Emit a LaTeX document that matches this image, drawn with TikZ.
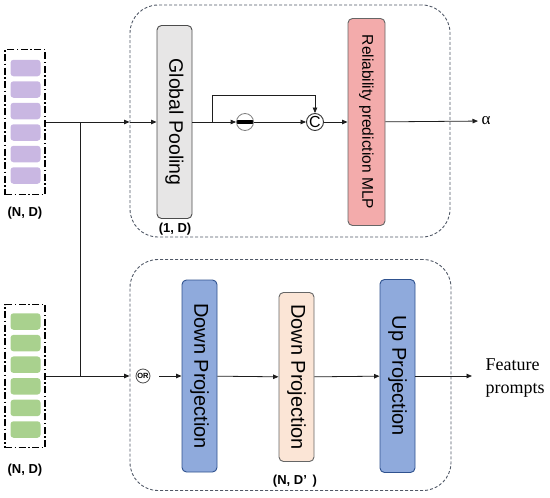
\documentclass[tikz,border=0pt]{standalone}
\usepackage{fontspec}
\setmainfont{Liberation Serif}
\setsansfont{Liberation Sans}
\usepackage{xcolor}
\usetikzlibrary{arrows.meta,positioning,fit}

\definecolor{cellpurple}{RGB}{201,183,226}
\definecolor{cellgreen}{RGB}{169,209,142}
\definecolor{poolgray}{RGB}{231,230,230}
\definecolor{mlppink}{RGB}{243,171,171}
\definecolor{projblue}{RGB}{143,170,220}
\definecolor{projedge}{RGB}{47,82,143}
\definecolor{peach}{RGB}{251,229,214}
\definecolor{stageclr}{RGB}{80,88,102}
\definecolor{lineclr}{RGB}{30,30,30}

\begin{document}
\begin{tikzpicture}[
    x=1pt, y=-1pt,
    inbox/.style={draw, line width=1.1pt, dash pattern=on 7pt off 2.5pt on 1.5pt off 2.5pt, minimum width=40pt, inner sep=0pt},
    cell/.style={rounded corners=3pt, minimum width=30pt, minimum height=16.5pt, inner sep=0pt},
    stage/.style={draw=stageclr, line width=0.9pt, dash pattern=on 3pt off 2pt, rounded corners=28pt, inner sep=0pt},
    blk/.style={draw, line width=0.9pt, rounded corners=4.5pt, rotate=-90, minimum height=35pt, inner sep=0pt, font=\sffamily},
    op/.style={draw=gray, circle, fill=white, inner sep=0pt, line width=0.8pt},
    dim/.style={font=\sffamily\bfseries\fontsize{13}{15}\selectfont},
    arr/.style={-{Triangle[length=5.5pt,width=4.5pt]}, line width=0.8pt, draw=lineclr},
    ln/.style={line width=0.8pt, draw=lineclr}
]
\useasboundingbox (0,0) rectangle (550,498);

% dashed stages
\node[stage, minimum width=320pt, minimum height=232pt] (upper) at (290,121) {};
\node[stage, minimum width=321pt, minimum height=231pt] (lower) at (290.5,375) {};

% input stacks
\node[inbox, minimum height=145pt] (inA) at (25,122) {};
\foreach \i in {0,...,5}
    \node[cell, fill=cellpurple] (pa\i) at (25.5,68+21.5*\i) {};
\node[dim] (dimA) at (25,213) {(N, D)};
\node[inbox, minimum height=143pt] (inB) at (25,376) {};
\foreach \i in {0,...,5}
    \node[cell, fill=cellgreen] (gb\i) at (25.5,321.5+21.6*\i) {};
\node[dim] (dimB) at (25,470) {(N, D)};

% upper branch
\node[blk, fill=poolgray, draw=black!70, minimum width=193pt, font=\sffamily\fontsize{19.5}{22}\selectfont] (gp) at (174.5,122) {Global Pooling};
\node[dim] (dimGP) at (175,229) {(1, D)};
\node[op, minimum size=17pt, path picture={\fill[black] ([yshift=-2.2pt]path picture bounding box.west) rectangle ([yshift=2.2pt]path picture bounding box.east);}] (minus) at (245,122) {};
\node[op, draw=black!80, minimum size=17pt, line width=0.9pt, font=\sffamily\fontsize{16}{16}\selectfont] (cat) at (315,122) {C};
\node[blk, fill=mlppink, draw=black!60, minimum width=207pt, minimum height=37pt, font=\sffamily\fontsize{15.5}{18}\selectfont] (mlp) at (366.5,122) {Reliability prediction MLP};
\node[anchor=west, font=\fontsize{17}{17}\selectfont] (alpha) at (478,121) {α};

% lower branch
\node[op, draw=black!70, minimum size=14pt, font=\sffamily\bfseries\fontsize{7.5}{8}\selectfont] (orn) at (143,376) {OR};
\node[blk, fill=projblue, draw=projedge, minimum width=192pt, font=\sffamily\fontsize{20}{22}\selectfont] (dp1) at (199.5,376) {Down Projection};
\node[blk, fill=peach, draw=black!60, minimum width=169pt, font=\sffamily\fontsize{20}{22}\selectfont] (dp2) at (296.5,377) {Down Projection};
\node[dim] (dimDP) at (295,481) {(N, D’\ \,)};
\node[blk, fill=projblue, draw=projedge, minimum width=193pt, font=\sffamily\fontsize{20}{22}\selectfont] (up) at (397.5,376) {Up Projection};
\node[anchor=west, align=left, font=\fontsize{18}{23}\selectfont] (feat) at (482,378) {Feature\\prompts};

% connections
\coordinate (forkA) at (80,122);
\coordinate (split) at (212,122);
\draw[arr] (inA) -- (inA -| upper.west);
\draw[arr] (inA -| upper.west) -- (gp);
\draw[ln] (forkA) -- (forkA |- inB);
\draw[arr] (inB) -- (inB -| lower.west);
\draw[arr] (gp) -- (minus);
\draw[arr] (minus) -- (cat);
\draw[arr] (split) -- ++(0,-27) -| (cat);
\draw[arr] (cat) -- (mlp);
\draw[arr] (mlp) -- (alpha);
\draw[arr, shorten <=9pt] (orn) -- (dp1);
\draw[arr] (dp1) -- (dp2);
\draw[arr] (dp2) -- (up);
\draw[arr, shorten >=10pt] (up) -- (up -| feat.west);
\end{tikzpicture}
\end{document}
